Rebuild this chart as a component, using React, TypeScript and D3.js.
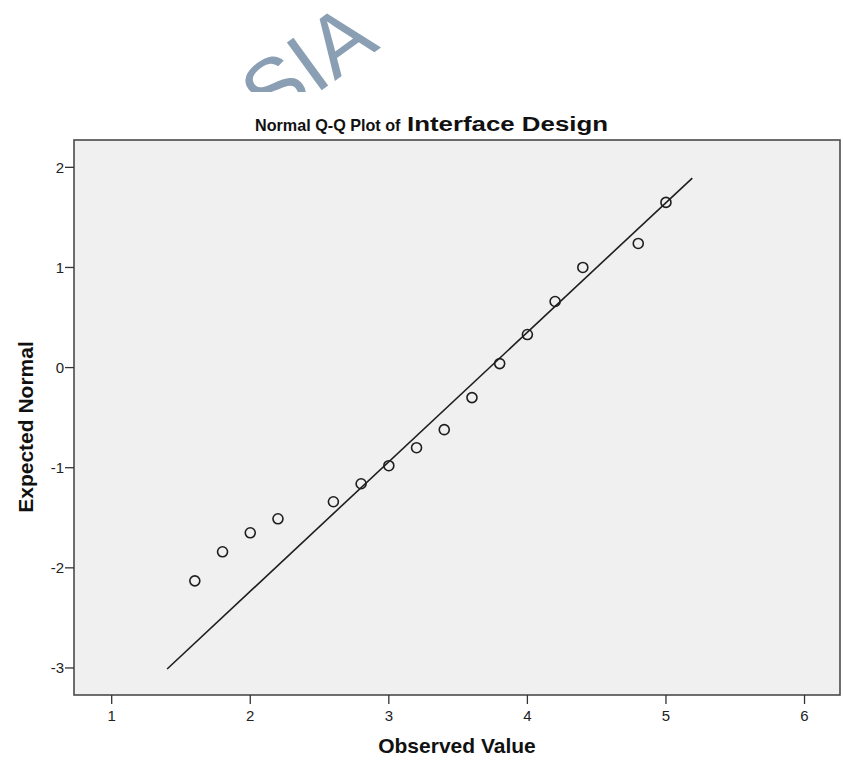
import React from "react";
import * as d3 from "d3";

const observed = [1.6, 1.8, 2.0, 2.2, 2.6, 2.8, 3.0, 3.2, 3.4, 3.6, 3.8, 4.0, 4.2, 4.4, 4.8, 5.0];
const expected = [-2.13, -1.84, -1.65, -1.51, -1.34, -1.16, -0.98, -0.8, -0.62, -0.3, 0.04, 0.33, 0.66, 1.0, 1.24, 1.65];
const xTicks = [1, 2, 3, 4, 5, 6];
const yTicks = [-3, -2, -1, 0, 1, 2];
const lineX = [1.4, 5.19];
const lineMean = 3.727;
const lineSd = 0.773;
const titleMain = "Normal Q-Q Plot of ";
const titleVar = "Interface Design";
const xLabel = "Observed Value";
const yLabel = "Expected Normal";
const watermark = "SIA";

const W = 843;
const H = 762;
const frame = { left: 74, right: 840, top: 140, bottom: 695 };

export default function App() {
  const x = d3.scaleLinear().domain([0.728, 6.256]).range([frame.left, frame.right]);
  const y = d3.scaleLinear().domain([-3.27, 2.273]).range([frame.bottom, frame.top]);
  const line = d3
    .line<number>()
    .x((d) => x(d))
    .y((d) => y((d - lineMean) / lineSd));
  const narrow = "'Liberation Sans Narrow', 'Arial Narrow', 'Liberation Sans', Arial, sans-serif";
  const wide = "'Liberation Sans', Arial, sans-serif";
  const ink = "#1e1e1e";
  return (
    <svg
      width={W}
      height={H}
      style={{ position: "absolute", left: 0, top: 0, background: "#fff" }}
    >
      <defs>
        <clipPath id="wm">
          <rect x={0} y={0} width={W} height={92} />
        </clipPath>
      </defs>
      <g clipPath="url(#wm)">
        <text
          transform="translate(325,88) rotate(-36)"
          textAnchor="middle"
          fontFamily={wide}
          fontSize={86}
          fill="#8a9fb3"
        >
          {watermark}
        </text>
      </g>
      <text x={255} y={131} fontWeight="bold" fill="#111">
        <tspan fontFamily={wide} fontSize={16.5} textLength={150} lengthAdjust="spacingAndGlyphs">
          {titleMain}
        </tspan>
        <tspan x={407} fontFamily={narrow} fontSize={20} textLength={201} lengthAdjust="spacingAndGlyphs">
          {titleVar}
        </tspan>
      </text>
      <rect
        x={frame.left}
        y={frame.top}
        width={frame.right - frame.left}
        height={frame.bottom - frame.top}
        fill="#f0f0f0"
        stroke="#4a4a4a"
        strokeWidth={1.6}
      />
      {yTicks.map((t) => (
        <g key={"y" + t}>
          <line x1={frame.left - 9} x2={frame.left} y1={y(t)} y2={y(t)} stroke="#333" strokeWidth={1.3} />
          <text
            x={frame.left - 10}
            y={y(t)}
            dy="0.35em"
            textAnchor="end"
            fontFamily={narrow}
            fontSize={15}
            fill="#222"
          >
            {t}
          </text>
        </g>
      ))}
      {xTicks.map((t) => (
        <g key={"x" + t}>
          <line x1={x(t)} x2={x(t)} y1={frame.bottom} y2={frame.bottom + 9} stroke="#333" strokeWidth={1.3} />
          <text
            x={x(t)}
            y={721}
            textAnchor="middle"
            fontFamily={narrow}
            fontSize={15}
            fill="#222"
          >
            {t}
          </text>
        </g>
      ))}
      <path d={line(lineX) || ""} fill="none" stroke={ink} strokeWidth={1.6} />
      {observed.map((v, i) => (
        <circle
          key={i}
          cx={x(v)}
          cy={y(expected[i])}
          r={5}
          fill="none"
          stroke={ink}
          strokeWidth={1.6}
        />
      ))}
      <text
        x={(frame.left + frame.right) / 2}
        y={753}
        textAnchor="middle"
        fontFamily={narrow}
        fontWeight="bold"
        fontSize={21}
        fill="#111"
      >
        {xLabel}
      </text>
      <text
        transform="translate(33,427) rotate(-90)"
        textAnchor="middle"
        fontFamily={narrow}
        fontWeight="bold"
        fontSize={21}
        fill="#111"
      >
        {yLabel}
      </text>
    </svg>
  );
}
